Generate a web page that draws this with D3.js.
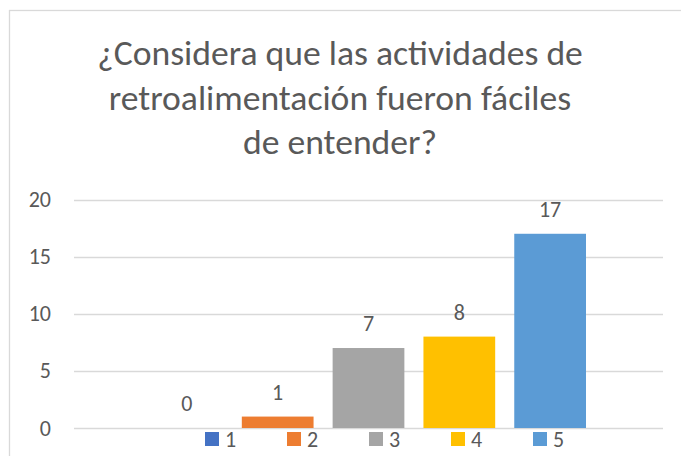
<!DOCTYPE html>
<html>
<head>
<meta charset="utf-8">
<script src="https://cdn.jsdelivr.net/npm/d3@7"></script>
<style>
  body { margin: 0; background: #fff; }
  text { font-family: Carlito, Lato, "Open Sans", sans-serif; fill: #595959; }
  .title { font-family: Carlito, Roboto, Lato, sans-serif; font-weight: 300; }
</style>
</head>
<body>
<script>
const titleLines = ["¿Considera que las actividades de", "retroalimentación fueron fáciles", "de entender?"];
const seriesNames = ["1", "2", "3", "4", "5"];
const seriesValues = [0, 1, 7, 8, 17];
const seriesColors = ["#4472C4", "#ED7D31", "#A5A5A5", "#FFC000", "#5B9BD5"];
const yTicks = [0, 5, 10, 15, 20];

const canvass = { width: 681, height: 456 };
const plot = { left: 74, right: 663, top: 199.5, bottom: 428 };

const svg = d3.select("body").append("svg")
  .attr("width", canvass.width)
  .attr("height", canvass.height);

// chart frame
svg.append("rect")
  .attr("x", 9.5).attr("y", 10.5)
  .attr("width", 720).attr("height", 500)
  .attr("fill", "none").attr("stroke", "#d9d9d9").attr("stroke-width", 1.3);

// title, fitted to the width of the first line
const titleText = svg.append("g").selectAll("text").data(titleLines).enter().append("text")
  .attr("class", "title")
  .attr("x", 340)
  .attr("y", (d, i) => 65 + i * 44.5)
  .attr("text-anchor", "middle")
  .style("font-size", "32px")
  .text(d => d);
const w0 = titleText.node().getComputedTextLength();
titleText.style("font-size", (32 * 486 / w0) + "px");

const yScale = d3.scaleLinear().domain([0, 20]).range([plot.bottom, plot.top]);
const xScale = d3.scaleBand().domain(seriesNames).range([151, 586]).paddingInner(0.21).paddingOuter(0);

// gridlines
svg.append("g").selectAll("line").data(yTicks).enter().append("line")
  .attr("x1", plot.left).attr("x2", plot.right)
  .attr("y1", d => Math.round(yScale(d)) + 0.5).attr("y2", d => Math.round(yScale(d)) + 0.5)
  .attr("stroke", "#d9d9d9").attr("stroke-width", 1.3);

// y axis labels
const yAxis = svg.append("g")
  .attr("transform", `translate(${plot.left},0)`)
  .call(d3.axisLeft(yScale).tickValues(yTicks).tickSize(0).tickPadding(23));
yAxis.select(".domain").remove();
yAxis.selectAll("text").attr("fill", "#595959")
  .style("font-family", "Carlito, Lato, 'Open Sans', sans-serif").style("font-size", "22px");

// bars
svg.append("g").selectAll("rect").data(seriesValues).enter().append("rect")
  .attr("x", (d, i) => xScale(seriesNames[i]))
  .attr("y", d => yScale(d))
  .attr("width", xScale.bandwidth())
  .attr("height", d => yScale(0) - yScale(d))
  .attr("fill", (d, i) => seriesColors[i]);

// data labels
svg.append("g").selectAll("text").data(seriesValues).enter().append("text")
  .attr("x", (d, i) => xScale(seriesNames[i]) + xScale.bandwidth() / 2)
  .attr("y", d => yScale(d) - 17)
  .attr("text-anchor", "middle")
  .style("font-size", "22px")
  .text(d => d);

// legend
const legend = svg.append("g").selectAll("g").data(seriesNames).enter().append("g")
  .attr("transform", (d, i) => `translate(${205 + i * 82},432)`);
legend.append("rect").attr("width", 14).attr("height", 14)
  .attr("fill", (d, i) => seriesColors[i]);
legend.append("text").attr("x", 20).attr("y", 15)
  .style("font-size", "22px")
  .text(d => d);
</script>
</body>
</html>
